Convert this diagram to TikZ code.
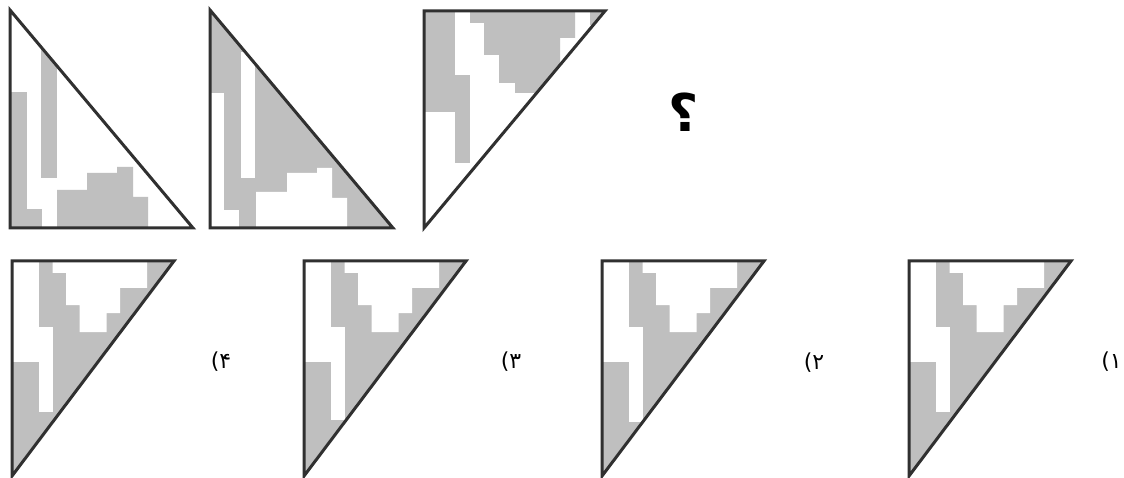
\documentclass[tikz,border=0pt]{standalone}
\usepackage{fontspec}
\newfontfamily\pfont{DejaVu Sans}
\newfontfamily\pbfont{DejaVu Sans Bold}
\definecolor{pgray}{RGB}{191,191,191}
\definecolor{edge}{RGB}{48,48,48}
\tikzset{
  tri/.style={draw=edge, line width=3pt},
  cellfill/.style={fill=pgray},
  holefill/.style={fill=white},
  optlabel/.style={font=\pfont\fontsize{22}{22}\selectfont, inner sep=0pt}
}
% #1 = left x, #2 = bottom of white column, #3 = notch depth
\newcommand\optiontri[3]{%
  \begin{scope}
    \clip (#1,261) -- (#1+162,261) -- (#1,476) -- cycle;
    \fill[cellfill] (#1-5,250) rectangle (#1+170,490);
    \fill[holefill] (#1-5,250) rectangle (#1+27,362);
    \fill[holefill] (#1+27,327) rectangle (#1+40.5,261+#2);
    \fill[holefill] (#1+40.5,250) -- (#1+135,250) -- (#1+135,288) -- (#1+108,288)
      -- (#1+108,261+#3) -- (#1+94.5,261+#3) -- (#1+94.5,332) -- (#1+67.5,332)
      -- (#1+67.5,305) -- (#1+54,305) -- (#1+54,273) -- (#1+40.5,273) -- cycle;
  \end{scope}
  \draw[tri] (#1,261) -- (#1+162,261) -- (#1,476) -- cycle;
}
\begin{document}
\begin{tikzpicture}[x=1pt,y=-1pt]
\useasboundingbox[fill=white] (0,0) rectangle (1124,478);

% ---- figure 1
\begin{scope}
  \clip (10,10) -- (10,228) -- (193,228) -- cycle;
  \fill[cellfill] (41,0) rectangle (57,178);
  \fill[cellfill] (0,92) rectangle (27,240);
  \fill[cellfill] (27,209) rectangle (42,240);
  \fill[cellfill] (57,240) -- (57,190) -- (87,190) -- (87,173) -- (117,173)
    -- (117,167) -- (133,167) -- (133,197) -- (148,197) -- (148,240) -- cycle;
\end{scope}
\draw[tri] (10,10) -- (10,228) -- (193,228) -- cycle;

% ---- figure 2
\begin{scope}
  \clip (210,10) -- (210,228) -- (393,228) -- cycle;
  \fill[cellfill] (200,0) rectangle (400,240);
  \fill[holefill] (241,52) rectangle (255,178);
  \fill[holefill] (200,93) rectangle (224,240);
  \fill[holefill] (224,210) rectangle (239,240);
  \fill[holefill] (256,240) -- (256,192) -- (287,192) -- (287,173) -- (317,173)
    -- (317,168) -- (332,168) -- (332,198) -- (347,198) -- (347,240) -- cycle;
\end{scope}
\draw[tri] (210,10) -- (210,228) -- (393,228) -- cycle;

% ---- figure 3
\begin{scope}
  \clip (424,11) -- (605,11) -- (424,228) -- cycle;
  \fill[cellfill] (414,0) rectangle (455,112);
  \fill[cellfill] (455,75) rectangle (470,163);
  \fill[cellfill] (470,0) -- (575,0) -- (575,38) -- (560,38) -- (560,93)
    -- (515,93) -- (515,83) -- (499,83) -- (499,55) -- (484,55) -- (484,23)
    -- (470,23) -- cycle;
  \fill[cellfill] (590,0) rectangle (620,25);
\end{scope}
\draw[tri] (424,11) -- (605,11) -- (424,228) -- cycle;

\node[font=\pbfont\fontsize{52}{52}\selectfont, inner sep=0pt] (q) at (684,112) {؟};

% ---- options
\optiontri{12}{151}{52}
\optiontri{304}{159}{52}
\optiontri{602}{161}{52}
\optiontri{909}{151}{44}

\node[optlabel] (l4) at (221,362) {(۴};
\node[optlabel] (l3) at (511,362) {(۳};
\node[optlabel] (l2) at (814,363) {(۲};
\node[optlabel, anchor=east] (l1) at (1122,362) {(۱};
\end{tikzpicture}
\end{document}
